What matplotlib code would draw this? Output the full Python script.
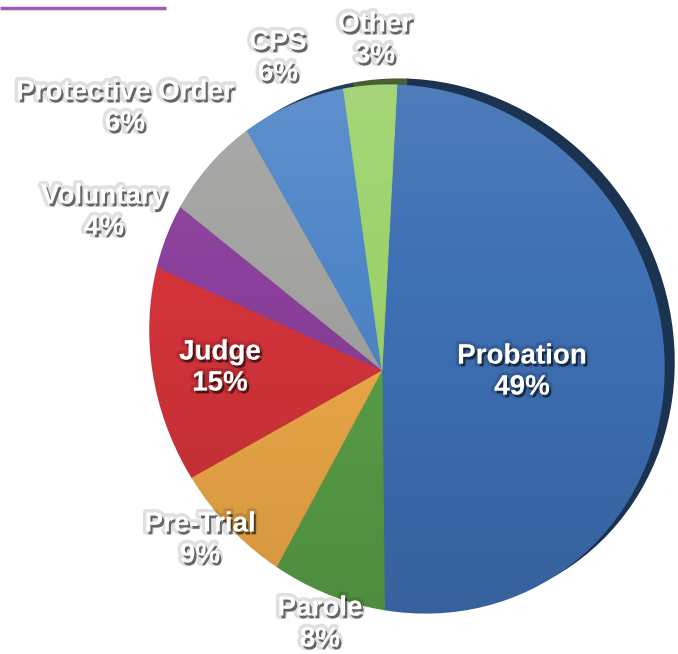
import numpy as np
import matplotlib
matplotlib.use('Agg')
import matplotlib.pyplot as plt
import matplotlib.patheffects as pe
from matplotlib.patches import Ellipse
from matplotlib.colors import to_rgb

# referral sources
categories = ['Probation', 'Parole', 'Pre-Trial', 'Judge',
              'Voluntary', 'Protective Order', 'CPS', 'Other']
shares = [49, 8, 9, 15, 4, 6, 6, 3]
colors = ['#3e70b4', '#5aa048', '#f0aa48', '#d3343a',
          '#8a3f9a', '#a2a2a0', '#4f86c8', '#9dd26c']

# label centres in pixel coords
label_xy = [(522, 372), (320, 624), (200, 540), (220, 368),
            (104, 212), (125, 108), (278, 58), (375, 40)]

W, H = 678, 654
fig = plt.figure(figsize=(W / 100, H / 100), dpi=100)
ax = fig.add_axes([0, 0, 1, 1])

apex = (382, 370)
ell_c, ell_w, ell_h, ell_ang = (407, 349), 542, 502, 55
side_shift = (10, -6)


def draw_pie(center, cols, z):
    # pie from the apex, clipped to the (tilted) face ellipse
    clip = Ellipse((ell_c[0] + center[0] - apex[0], ell_c[1] + center[1] - apex[1]),
                   ell_w, ell_h, angle=ell_ang, facecolor='none', edgecolor='none')
    ax.add_patch(clip)
    wedges, _ = ax.pie(shares, colors=cols, center=center, radius=330,
                       startangle=-87, counterclock=True,
                       wedgeprops=dict(linewidth=0.6))
    for w in wedges:
        w.set_edgecolor(w.get_facecolor())
        w.set_clip_on(True)
        w.set_clip_path(clip)
        w.set_zorder(z)
    return clip


side_cols = [tuple(c * 0.45 for c in to_rgb(col)) for col in colors]
draw_pie((apex[0] + side_shift[0], apex[1] + side_shift[1]), side_cols, 1)
face = draw_pie(apex, colors, 2)

# soft light from the top, darker toward the bottom
grad = np.zeros((256, 2, 4))
t = np.linspace(0, 1, 256)
grad[:, :, :3] = np.where(t[:, None, None] < 0.4, 1.0, 0.0)
grad[:, :, 3] = np.where(t < 0.4, 0.10 * (0.4 - t) / 0.4, 0.13 * (t - 0.4) / 0.6)[:, None]
img = ax.imshow(grad, extent=(100, 700, 620, 60), aspect='auto', zorder=3)
img.set_clip_path(face)

effects = [pe.Stroke(linewidth=5, foreground=(0, 0, 0, 0.12)),
           pe.SimplePatchShadow(offset=(1.5, -2), shadow_rgbFace='black', alpha=0.55),
           pe.Normal()]
for name, val, (x, y) in zip(categories, shares, label_xy):
    ax.text(x, y, '{}\n{}%'.format(name, val), ha='center', va='center',
            color='white', fontsize=20, fontweight='bold', family='Liberation Sans',
            linespacing=1.25, zorder=5, path_effects=effects)

# purple rule top-left
ax.plot([0, 166], [8, 8], color='#a05ab4', linewidth=2.5, solid_capstyle='butt', zorder=4)

ax.set_xlim(0, W)
ax.set_ylim(H, 0)
ax.set_aspect('equal')
ax.axis('off')
fig.savefig('out.png', dpi=100, facecolor='white')
